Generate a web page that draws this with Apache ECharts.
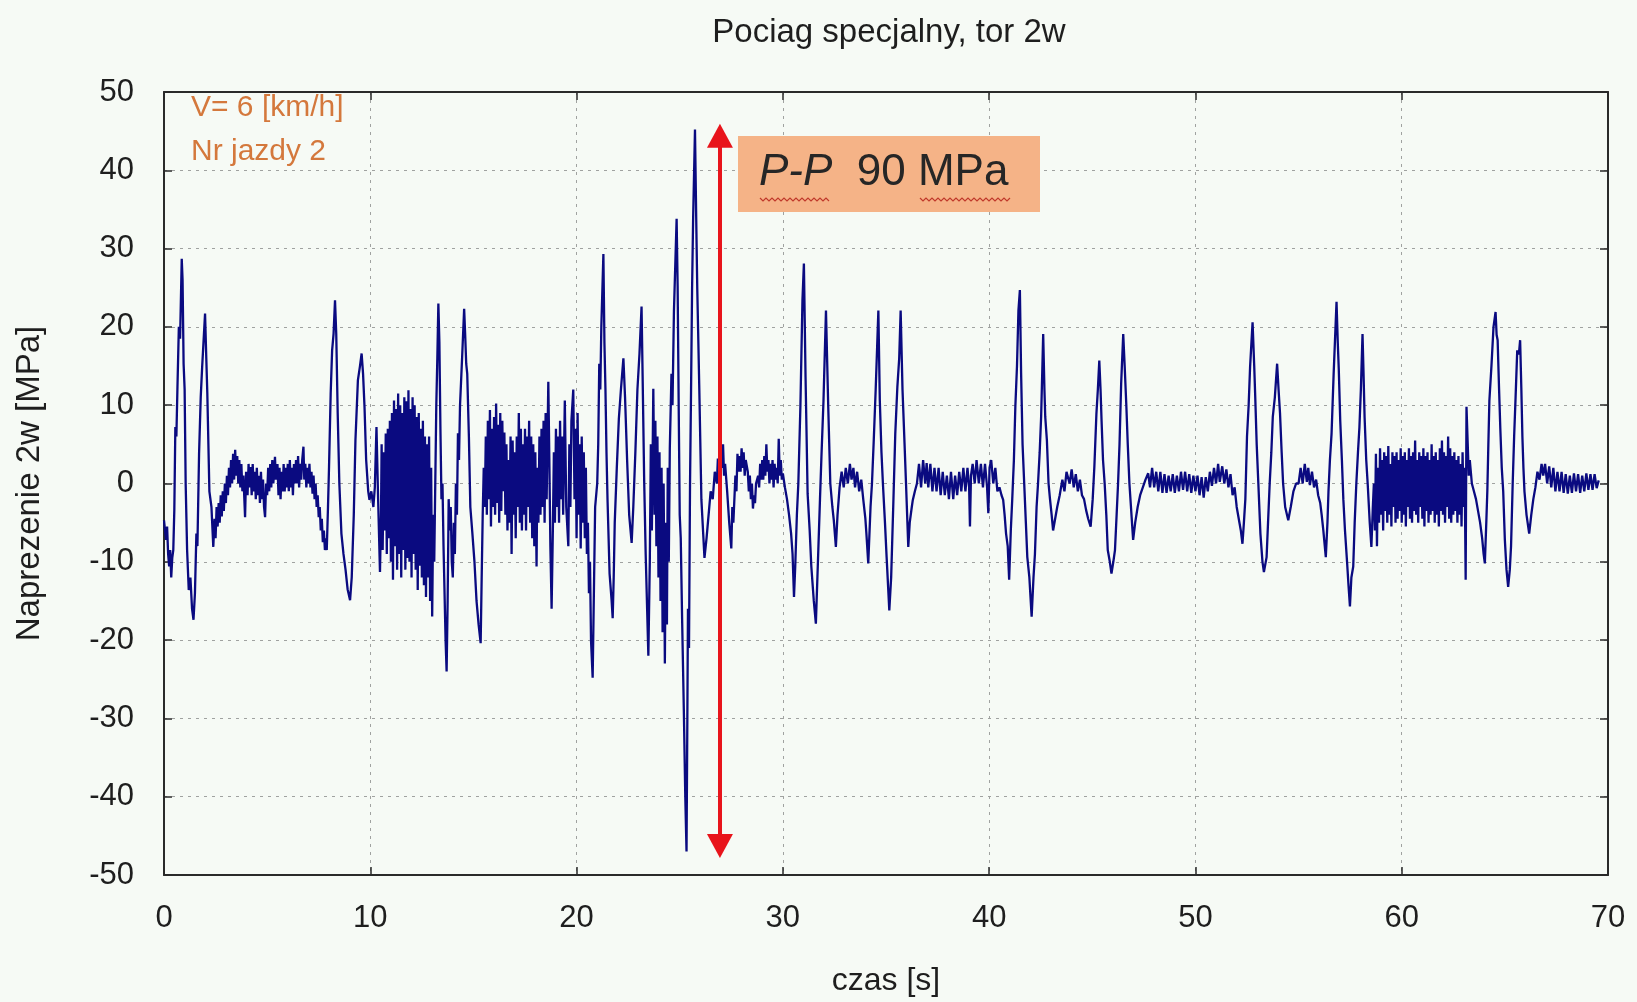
<!DOCTYPE html>
<html>
<head>
<meta charset="utf-8">
<title>Pociag specjalny, tor 2w</title>
<script src="https://cdn.jsdelivr.net/npm/echarts@6.0.0/dist/echarts.min.js"></script>
<style>
  html, body { margin: 0; padding: 0; background: #f6faf5; }
  #chart-container { width: 1637px; height: 1002px; }
</style>
</head>
<body>
<div id="chart-container"></div>
<script>
// przebieg naprezenia: [czas s, naprezenie MPa]
var s00 = [[0.0,-4.7],[0.05,-6],[0.1,-7.2],[0.15,-5.5],[0.2,-9],[0.25,-10.6],[0.3,-8.5],[0.35,-12],[0.4,-9.5],[0.45,-8.5],[0.5,-3.4],[0.55,7.2],[0.6,6],[0.65,12],[0.72,20],[0.78,18.5],[0.86,28.7],[0.9,26],[0.95,15.3],[1.0,12],[1.05,0],[1.12,-8.5],[1.2,-13.6],[1.28,-12],[1.36,-16],[1.43,-17.4],[1.5,-14],[1.57,-6.4],[1.62,-8],[1.7,3.8],[1.78,11],[1.85,14.9],[1.92,15],[1.99,21.7],[2.05,16],[2.1,11.5],[2.2,-1],[2.3,-3],[2.39,-8.1],[2.45,-4.5],[2.5,-7],[2.55,-3],[2.6,-5.5],[2.65,-2.5],[2.7,-5],[2.75,-1.5],[2.8,-4.2],[2.85,-1],[2.9,-3.5],[2.95,0],[3.0,-2.5],[3.05,1],[3.1,-1.5],[3.15,2],[3.2,-0.5],[3.25,3],[3.3,0],[3.35,3.8],[3.4,0.5],[3.45,4.3],[3.5,1],[3.55,3.5],[3.6,0],[3.65,3],[3.7,-0.5],[3.75,2.5],[3.8,-1],[3.85,1],[3.93,-4.3],[3.98,1.5],[4.05,-1.5],[4.1,2.5],[4.15,-0.5],[4.2,2.1],[4.25,-1.5],[4.3,2.5],[4.35,-1],[4.4,1.5],[4.45,-2],[4.5,2],[4.55,-1.5],[4.6,1],[4.65,-2.5],[4.7,1.5],[4.75,-2],[4.8,0.5],[4.85,-3],[4.9,-4.3],[4.95,0],[5.0,-1.5],[5.05,2],[5.1,-1],[5.15,2.5],[5.2,-0.5],[5.25,3],[5.3,0],[5.38,3.4],[5.42,0.5],[5.5,2.5],[5.55,-1.5],[5.6,2],[5.65,-2],[5.7,1.5],[5.75,-1],[5.8,2.5],[5.85,-1],[5.9,2],[5.95,-0.5],[6.0,2.5],[6.05,-1],[6.1,3],[6.15,-0.5],[6.2,2],[6.25,-1.5],[6.3,2.5],[6.35,0],[6.4,3],[6.45,0],[6.5,3.5],[6.55,-0.5],[6.6,2.5],[6.65,0.5],[6.7,3],[6.76,4.7],[6.8,0.5],[6.85,2.5],[6.9,-0.5],[6.95,2],[7.0,0],[7.05,2.5],[7.1,-0.5],[7.15,1.5],[7.2,-1.3],[7.25,1],[7.3,-2],[7.35,0],[7.4,-3],[7.45,-1.5],[7.5,-4.3],[7.55,-3],[7.6,-6],[7.65,-4.5],[7.7,-7.5],[7.75,-6],[7.8,-8.5],[7.85,-7],[7.89,-8.5],[7.95,-3],[8.0,2.1],[8.08,11.5],[8.15,17],[8.22,19.1],[8.29,23.4],[8.35,19.1],[8.42,9],[8.5,0],[8.6,-6.4],[8.7,-9],[8.8,-11],[8.9,-13.5],[9.02,-14.9],[9.1,-12],[9.2,-4],[9.28,5.5],[9.4,13.2],[9.5,15],[9.58,16.6],[9.65,14],[9.72,9.8],[9.8,3],[9.9,-1],[9.96,-2.1]];

var s10 = [[10.05,-1],[10.15,-3],[10.22,-0.5],[10.3,7.2],[10.38,-2],[10.47,-11.3],[10.52,-4],[10.55,5],[10.6,-8.5],[10.65,4],[10.7,-6],[10.75,6.4],[10.8,-9],[10.85,7],[10.9,-7],[10.95,8],[11.0,-10],[11.05,9],[11.1,-12.3],[11.15,10.6],[11.2,-8],[11.25,9.5],[11.3,-11],[11.35,11.5],[11.4,-9],[11.45,10],[11.5,-12],[11.55,9],[11.6,-8.5],[11.65,11],[11.7,-11],[11.75,10.5],[11.8,-9.5],[11.85,11.9],[11.9,-10],[11.95,9.5],[12.0,-12],[12.05,11],[12.1,-9],[12.15,10],[12.2,-11],[12.25,8.5],[12.3,-13.6],[12.35,9],[12.4,-10.5],[12.45,7],[12.5,-12],[12.55,8],[12.6,-13],[12.65,6],[12.7,-14.5],[12.75,5],[12.8,-12],[12.85,6],[12.9,-15],[12.95,2],[13.0,-17],[13.05,-4],[13.1,-10],[13.15,0],[13.2,10],[13.25,16],[13.3,23],[13.35,18],[13.4,7],[13.45,-2],[13.5,0],[13.55,-8],[13.6,-14],[13.65,-20],[13.7,-24],[13.75,-15],[13.8,-2],[13.85,-6],[13.9,-3],[13.95,-10],[14.0,-12],[14.05,-5],[14.1,-9],[14.15,0],[14.2,-4],[14.25,6.4],[14.3,3],[14.35,10],[14.45,16],[14.55,22.3],[14.6,19],[14.65,15.3],[14.7,14],[14.78,6],[14.85,-3],[14.95,-6.4],[15.05,-10],[15.15,-15],[15.25,-18],[15.35,-20.4],[15.4,-12],[15.45,-4],[15.5,2],[15.55,-3],[15.6,6],[15.65,-4],[15.7,8],[15.75,-2],[15.8,9.4],[15.85,-5.5],[15.9,7],[15.95,-3],[16.0,8.5],[16.05,-4],[16.1,10.2],[16.15,-2.5],[16.2,7.5],[16.25,-5],[16.3,9],[16.35,-3.5],[16.4,8],[16.45,-1],[16.5,6.5],[16.55,-4],[16.6,5],[16.65,-6],[16.7,3],[16.75,-5],[16.8,6],[16.85,-9],[16.9,5.5],[16.95,-4],[17.0,4],[17.05,-7],[17.1,6],[17.15,-3],[17.2,9],[17.25,-5],[17.3,7],[17.35,-6],[17.4,5],[17.45,-4],[17.5,7],[17.55,-6],[17.6,6],[17.65,-3],[17.7,8],[17.75,-5],[17.8,6],[17.85,-7],[17.9,5],[17.95,-8],[18.0,4],[18.06,-10.6],[18.1,2],[18.15,-5],[18.2,6],[18.25,-4],[18.3,7],[18.35,-3],[18.4,8],[18.45,-5],[18.5,9],[18.55,-2],[18.63,13],[18.68,3],[18.73,-8],[18.79,-16],[18.85,-6],[18.9,4],[18.95,-5],[19.0,7],[19.05,-3],[19.1,6],[19.15,-5],[19.2,8],[19.25,-2],[19.3,6],[19.35,-4],[19.43,10.6],[19.5,-3],[19.6,-8],[19.65,5],[19.7,-3],[19.75,8],[19.84,12],[19.9,-2],[19.95,7]];

var s20 = [[20.0,-7],[20.05,9],[20.1,-4],[20.15,5],[20.2,-8.3],[20.25,6],[20.3,-5],[20.35,4],[20.4,-7],[20.45,2],[20.5,-9],[20.55,-5],[20.6,-14],[20.65,-10],[20.7,-20],[20.78,-24.8],[20.85,-12],[20.9,-3],[21.0,0],[21.05,5],[21.1,15.3],[21.15,12],[21.2,20],[21.3,29.3],[21.35,18],[21.4,12],[21.45,4],[21.5,-2],[21.6,-11.5],[21.7,-15],[21.75,-17.2],[21.8,-12],[21.85,-5],[21.95,2],[22.05,8.3],[22.15,12],[22.27,16],[22.35,11],[22.45,3],[22.55,-4],[22.67,-7.6],[22.75,-3],[22.85,4],[22.95,12],[23.05,16.6],[23.15,22.6],[23.2,14],[23.28,0],[23.35,-9],[23.48,-22],[23.55,-10],[23.6,5],[23.65,-6],[23.72,12.1],[23.78,-4],[23.82,8],[23.87,-8],[23.92,6],[23.97,-12],[24.02,4],[24.07,-15],[24.12,2],[24.17,-19],[24.22,0],[24.28,-23],[24.33,-5],[24.38,-18],[24.42,2],[24.47,-10],[24.52,4.5],[24.6,14],[24.65,10],[24.72,22],[24.85,33.8],[24.9,25],[24.95,10],[25.0,-4],[25.05,-7],[25.12,-17.8],[25.2,-29],[25.27,-40],[25.33,-47],[25.37,-30],[25.4,-16],[25.45,-21],[25.5,0],[25.55,12],[25.6,25],[25.65,33.8],[25.74,45.2],[25.8,33.8],[25.85,25],[25.95,12],[26.05,-2],[26.2,-9.5],[26.3,-7],[26.4,-4],[26.5,-1],[26.6,-2],[26.7,1.5],[26.8,0],[26.85,3.2],[26.9,1],[27.0,4],[27.05,2],[27.1,5],[27.15,1],[27.2,2.5],[27.3,-1],[27.4,-5],[27.5,-8.3],[27.55,-3],[27.6,-5],[27.7,1],[27.75,-1],[27.8,3.8],[27.85,1.5],[27.9,3.5],[27.95,1.5],[28.0,4.5],[28.05,2],[28.1,4],[28.15,1],[28.2,3],[28.3,1.5],[28.35,-1],[28.4,1],[28.45,-2],[28.5,0],[28.55,-3.2],[28.6,-1.5],[28.65,-2.5],[28.7,0],[28.8,1],[28.85,-0.5],[28.9,2.5],[28.95,0.5],[29.0,3],[29.05,0.5],[29.1,3.5],[29.15,1],[29.2,5],[29.25,1.5],[29.3,3],[29.35,0],[29.4,2.5],[29.45,0.5],[29.5,3],[29.55,-0.5],[29.6,2.5],[29.65,0.5],[29.7,2],[29.75,0],[29.8,5.7],[29.85,1],[29.9,3],[29.95,0.5]];

var s30 = [[30.0,1.3],[30.1,-0.5],[30.2,-2],[30.3,-4],[30.4,-6.4],[30.47,-9],[30.54,-14.5],[30.6,-10.6],[30.68,-4],[30.75,0],[30.85,9.8],[30.95,23.4],[31.02,28.1],[31.1,13.6],[31.2,-1.3],[31.3,-6],[31.38,-10.6],[31.5,-15],[31.6,-17.9],[31.7,-10],[31.8,-2],[31.87,3.4],[31.97,10.6],[32.09,22.1],[32.2,9.8],[32.3,0],[32.4,-3],[32.47,-4.7],[32.57,-8.1],[32.65,-4],[32.75,-0.5],[32.85,1.5],[32.95,-0.5],[33.05,2],[33.15,0],[33.25,2.5],[33.33,0.5],[33.42,2],[33.5,-0.5],[33.6,1.5],[33.7,-1],[33.8,0.5],[33.9,-2.1],[34.0,-4.5],[34.05,-6.4],[34.14,-10.2],[34.25,-3],[34.32,0],[34.4,5.1],[34.5,12],[34.57,17.4],[34.63,22.1],[34.7,10.6],[34.78,4],[34.85,0],[34.95,-5],[35.03,-9.4],[35.16,-16.2],[35.25,-12],[35.35,-3],[35.45,6.4],[35.55,12.3],[35.64,16],[35.71,22.1],[35.8,12],[35.9,5],[35.97,0],[36.08,-8.1],[36.15,-5],[36.25,-3],[36.3,-2.1],[36.4,-1],[36.5,0],[36.6,2.5],[36.7,-0.5],[36.8,3],[36.9,0],[36.97,2.6],[37.05,-0.5],[37.15,2.5],[37.25,-1],[37.35,2],[37.45,-1],[37.55,2],[37.65,-1.5],[37.75,1.5],[37.85,-1.5],[37.95,1],[38.05,-2],[38.15,1.5],[38.26,-2],[38.35,1],[38.45,-1.5],[38.55,1.5],[38.65,-1],[38.75,2],[38.85,-1],[38.95,2],[39.03,-0.5],[39.07,-5.5],[39.12,1],[39.2,2.5],[39.3,0],[39.39,3],[39.5,0],[39.6,2.5],[39.7,-0.5],[39.8,2.5],[39.9,-0.5],[39.96,-3.8]];

var s40 = [[40.02,2],[40.1,3],[40.2,0],[40.3,2],[40.4,-1],[40.5,-0.5],[40.6,-1.5],[40.68,-2.1],[40.75,-4],[40.82,-6.4],[40.9,-8],[40.97,-12.3],[41.05,-6],[41.12,-2],[41.2,3],[41.27,9.8],[41.35,15],[41.42,22.1],[41.49,24.7],[41.55,14],[41.62,5],[41.7,0],[41.78,-5],[41.85,-9.4],[41.95,-12],[42.06,-17],[42.15,-12],[42.22,-9],[42.3,-3],[42.37,0],[42.45,4],[42.52,8.5],[42.62,19.1],[42.68,12],[42.72,8.5],[42.8,5.5],[42.88,0],[42.95,-2],[43.03,-4],[43.1,-6],[43.2,-4.5],[43.3,-3],[43.42,-1.5],[43.55,0.5],[43.65,-1],[43.75,1.5],[43.9,0],[44.0,1.8],[44.1,-0.5],[44.2,1.2],[44.3,-1],[44.4,0.5],[44.5,-1.5],[44.6,-2],[44.7,-3.4],[44.8,-4.5],[44.92,-5.5],[45.02,-2],[45.1,2.1],[45.2,8.9],[45.27,12],[45.34,15.7],[45.4,12],[45.45,8],[45.52,3],[45.6,0],[45.68,-4],[45.75,-8.5],[45.85,-10],[45.93,-11.5],[46.02,-10],[46.1,-8.5],[46.18,-4],[46.25,0],[46.32,5],[46.4,12.8],[46.5,19.1],[46.57,15],[46.65,10],[46.72,5],[46.8,0],[46.9,-4],[46.98,-7.2],[47.08,-5],[47.2,-3],[47.32,-1.5],[47.45,-0.5],[47.58,0.5],[47.71,1.3],[47.8,-0.5],[47.9,2],[48.0,-0.5],[48.1,1.5],[48.2,-1],[48.3,1.5],[48.4,-1.2],[48.5,1.2],[48.6,-1.2],[48.7,1],[48.8,-1],[48.9,1.2],[49.0,-1.2],[49.1,1],[49.2,-1],[49.3,1.5],[49.4,-0.8],[49.5,1.5],[49.6,-1],[49.7,1.2],[49.8,-1.2],[49.9,1]];

var s50 = [[50.0,-1],[50.1,1],[50.2,-1.5],[50.3,0.8],[50.4,-1.8],[50.5,0.8],[50.6,-1],[50.7,1.5],[50.8,-0.3],[50.9,2],[51.0,0],[51.1,2.5],[51.18,0.2],[51.3,2.2],[51.4,0],[51.5,1.8],[51.6,-0.5],[51.7,1.2],[51.8,-1.5],[51.9,-0.5],[52.0,-3],[52.1,-4.5],[52.2,-6],[52.28,-7.7],[52.35,-5],[52.42,-2],[52.5,6],[52.58,10],[52.65,14.9],[52.77,20.6],[52.85,15],[52.9,11],[52.97,5],[53.05,0],[53.15,-6.4],[53.25,-10],[53.32,-11.3],[53.45,-9.4],[53.52,-5],[53.6,0],[53.68,4],[53.75,8.5],[53.85,11],[53.96,15.3],[54.03,12],[54.1,9],[54.18,4],[54.25,0],[54.35,-3],[54.5,-4.7],[54.62,-3],[54.75,-1],[54.88,0],[55.0,0],[55.1,2],[55.2,0],[55.3,2.5],[55.4,0.2],[55.47,2],[55.55,-0.2],[55.65,1.5],[55.75,-0.5],[55.85,0.5],[55.95,-1.5],[56.05,-2.5],[56.12,-4],[56.2,-6],[56.32,-9.4],[56.4,-5],[56.45,-1],[56.52,3],[56.6,6.4],[56.7,14],[56.84,23.2],[56.9,18],[56.95,14.5],[57.02,8],[57.1,3],[57.17,-2],[57.25,-6],[57.35,-10],[57.42,-13],[57.49,-15.7],[57.56,-12],[57.65,-10.6],[57.72,-5],[57.8,0],[57.88,4],[57.95,7.2],[58.02,12],[58.1,19.1],[58.15,14],[58.2,8.5],[58.28,3],[58.35,0],[58.45,-5],[58.53,-8.1],[58.6,-3],[58.65,0],[58.7,-6],[58.75,3.8],[58.8,-8],[58.85,2],[58.9,-5],[58.95,4.5],[59.0,-4],[59.05,3],[59.1,-6],[59.15,4],[59.2,-3.5],[59.25,3.5],[59.3,-5],[59.35,4.8],[59.4,-4],[59.45,2.5],[59.5,-5.5],[59.55,4],[59.6,-3],[59.65,3.5],[59.7,-5],[59.75,4],[59.8,-4.5],[59.85,3],[59.9,-3.5],[59.95,4.5]];

var s60 = [[60.0,-5],[60.05,3.5],[60.1,-4],[60.15,4],[60.2,-5.5],[60.25,3],[60.3,-3],[60.35,4.5],[60.4,-4.5],[60.45,3.5],[60.5,-5],[60.55,4],[60.6,-3.5],[60.65,5.5],[60.7,-4],[60.75,3],[60.8,-5],[60.85,4],[60.9,-3],[60.95,3.5],[61.0,-4.5],[61.05,4.5],[61.1,-5.5],[61.15,3.5],[61.2,-3.5],[61.25,4],[61.3,-5],[61.35,3],[61.4,-4],[61.45,5],[61.5,-3.5],[61.55,3.5],[61.6,-5],[61.65,4],[61.7,-4],[61.75,3],[61.8,-5.5],[61.85,4.5],[61.9,-3.5],[61.95,5.5],[62.0,-4],[62.05,4],[62.1,-5],[62.15,3.5],[62.2,-3],[62.25,6],[62.3,-4.5],[62.35,4.5],[62.4,-5],[62.45,3.5],[62.5,-4],[62.55,4],[62.6,-3.5],[62.65,3],[62.7,-5],[62.75,3.5],[62.8,-4],[62.85,2.5],[62.9,-5.5],[62.95,4],[63.0,-3],[63.05,2],[63.1,-12.3],[63.14,9.8],[63.2,5],[63.25,1],[63.3,3],[63.4,0],[63.5,-1],[63.6,-2],[63.7,-3.5],[63.8,-5],[63.9,-7],[63.97,-9],[64.03,-10.2],[64.1,-5],[64.15,-1],[64.2,5],[64.25,10.6],[64.35,15],[64.45,20],[64.55,21.9],[64.6,19],[64.65,18.3],[64.72,12],[64.78,7],[64.85,2],[64.92,-1],[65.0,-7.2],[65.08,-11],[65.16,-13.2],[65.24,-11],[65.3,-8],[65.38,0],[65.45,6],[65.52,11],[65.6,17],[65.68,16.5],[65.74,18.3],[65.8,12],[65.85,6],[65.9,2],[65.95,-1],[66.05,-4],[66.18,-6.4],[66.28,-4],[66.38,-2],[66.48,-0.5],[66.58,1.5],[66.68,0.5],[66.78,2.5],[66.86,1],[66.95,2.5],[67.05,0],[67.15,2.2],[67.25,-0.5],[67.35,2],[67.45,-1],[67.55,1.5],[67.65,-1],[67.75,1.5],[67.85,-1.2],[67.95,1.2],[68.05,-1.3],[68.15,1],[68.25,-1.2],[68.35,1.3],[68.45,-1],[68.55,1.2],[68.65,-1.2],[68.75,1],[68.85,-1],[68.95,1.3],[69.05,-0.8],[69.15,1.2],[69.25,-0.8],[69.35,1.2],[69.45,-0.6],[69.55,0.4]];

// strzalka P-P (czas, gora, dol)
var arrowT = 26.95;
var arrowTop = 44.4;
var arrowBottom = -46.3;

var fontName = 'Liberation Sans, Arial, sans-serif';
var signal = [].concat(s00, s10, s20, s30, s40, s50, s60);

var dom = document.getElementById('chart-container');
var myChart = echarts.init(dom, null, { renderer: 'canvas' });

var axisCommon = {
  type: 'value',
  axisLine: { show: true, onZero: false, lineStyle: { color: '#2a2a2a', width: 2 } },
  axisTick: { show: true, inside: true, length: 8, lineStyle: { color: '#2a2a2a', width: 1.5 } }
};

// falista linia podkreslenia (jak w oryginale)
function wavy(x0, x1, y) {
  var pts = [];
  for (var x = x0, k = 0; x <= x1; x += 3, k++) {
    pts.push([x, y + (k % 2 ? 2 : -1)]);
  }
  return pts;
}

var option = {
  backgroundColor: '#f6faf5',
  animation: false,
  title: {
    text: 'Pociag specjalny, tor 2w',
    left: 884,
    top: 11,
    textAlign: 'center',
    textStyle: { fontFamily: fontName, fontSize: 33, fontWeight: 'normal', color: '#1e1e1e' }
  },
  grid: { left: 164, right: 29, top: 92, bottom: 127, outerBoundsMode: 'none', containLabel: false },
  xAxis: [
    Object.assign({}, axisCommon, {
      position: 'bottom',
      min: 0, max: 70, interval: 10,
      name: 'czas [s]',
      nameLocation: 'middle',
      nameGap: 90,
      nameTextStyle: { fontFamily: fontName, fontSize: 32, color: '#1e1e1e' },
      axisLabel: { margin: 28, fontFamily: fontName, fontSize: 31, color: '#1e1e1e' },
      splitLine: { show: true, lineStyle: { color: '#a0a2a0', type: [3, 5], width: 1 } }
    }),
    Object.assign({}, axisCommon, {
      position: 'top',
      min: 0, max: 70, interval: 10,
      axisLabel: { show: false },
      splitLine: { show: false }
    })
  ],
  yAxis: [
    Object.assign({}, axisCommon, {
      position: 'left',
      min: -50, max: 50, interval: 10,
      name: 'Naprezenie 2w [MPa]',
      nameLocation: 'middle',
      nameRotate: 90,
      nameGap: 118,
      nameTextStyle: { fontFamily: fontName, fontSize: 33, color: '#1e1e1e' },
      axisLabel: { margin: 30, fontFamily: fontName, fontSize: 31, color: '#1e1e1e' },
      splitLine: { show: true, lineStyle: { color: '#a0a2a0', type: [3, 5], width: 1 } }
    }),
    Object.assign({}, axisCommon, {
      position: 'right',
      min: -50, max: 50, interval: 10,
      axisLabel: { show: false },
      splitLine: { show: false }
    })
  ],
  graphic: [
    {
      type: 'text', left: 191, top: 93,
      style: { text: 'V= 6 [km/h]', fill: '#d4783c', font: '30px ' + fontName }
    },
    {
      type: 'text', left: 191, top: 137,
      style: { text: 'Nr jazdy 2', fill: '#d4783c', font: '30px ' + fontName }
    },
    {
      type: 'rect', left: 738, top: 136, z: 10,
      shape: { width: 302, height: 76 },
      style: { fill: '#f5b387' }
    },
    {
      type: 'text', left: 759, top: 151, z: 11,
      style: {
        text: '{i|P-P}  90 MPa',
        fill: '#262626',
        font: '44px ' + fontName,
        rich: { i: { fontStyle: 'italic', fontSize: 44, fontFamily: fontName, fill: '#262626' } }
      }
    },
    {
      type: 'polyline', z: 12,
      shape: { points: wavy(760, 830, 199) },
      style: { stroke: '#c0392b', lineWidth: 1.2, fill: null }
    },
    {
      type: 'polyline', z: 12,
      shape: { points: wavy(920, 1012, 199) },
      style: { stroke: '#c0392b', lineWidth: 1.2, fill: null }
    }
  ],
  series: [
    {
      type: 'line',
      xAxisIndex: 0,
      yAxisIndex: 0,
      data: signal,
      symbol: 'none',
      showSymbol: false,
      sampling: null,
      lineStyle: { color: '#0a0a80', width: 2.3 },
      markLine: {
        silent: true,
        symbol: ['triangle', 'triangle'],
        symbolSize: [26, 24],
        label: { show: false },
        lineStyle: { color: '#e8141b', width: 4, type: 'solid' },
        data: [[{ coord: [arrowT, arrowTop] }, { coord: [arrowT, arrowBottom] }]]
      }
    }
  ]
};

myChart.setOption(option);
</script>
</body>
</html>
